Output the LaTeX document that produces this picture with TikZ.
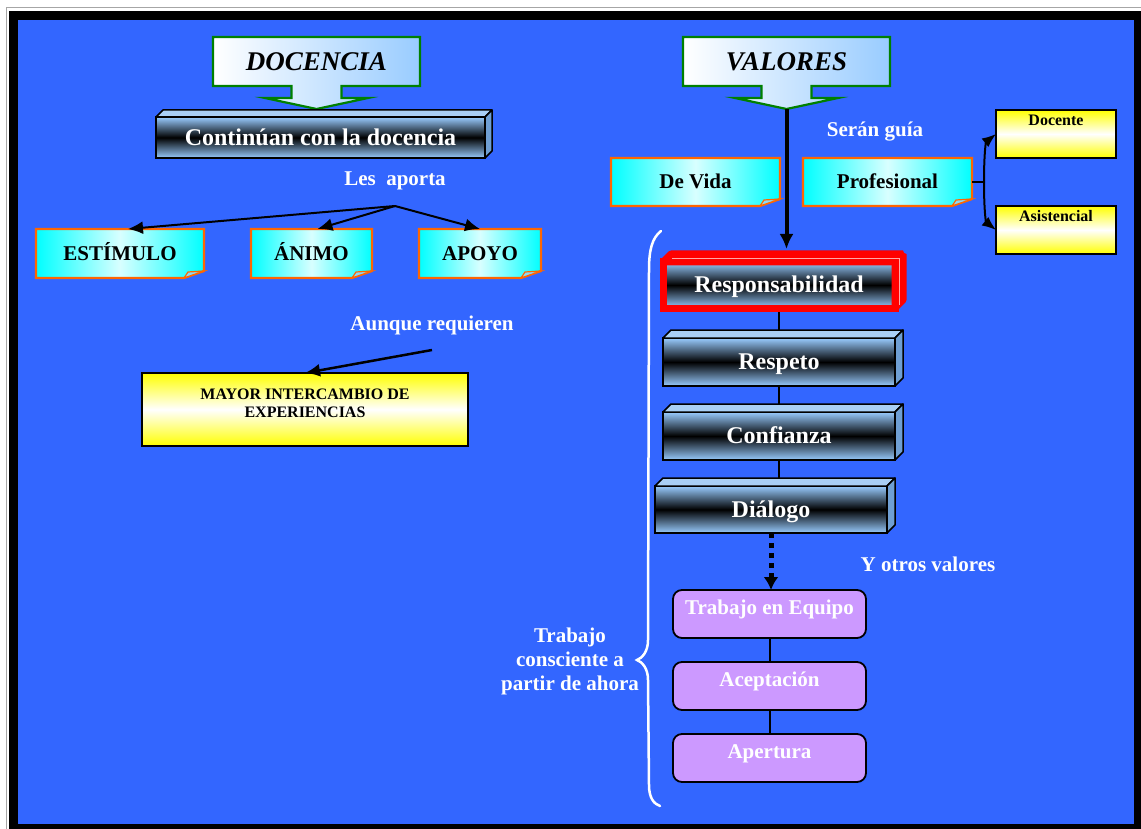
\documentclass[tikz,border=0pt]{standalone}
\usepackage{fontspec}
\setmainfont{Liberation Serif}
\usetikzlibrary{arrows.meta,calc}
\definecolor{bgblue}{HTML}{3366FF}
\definecolor{skyblue}{HTML}{99CCFF}
\definecolor{facetop}{HTML}{A9CFF5}
\definecolor{faceside}{HTML}{6F9FD3}
\definecolor{lilac}{HTML}{CC99FF}
\definecolor{edgeorange}{HTML}{FF6600}
\definecolor{leafgreen}{HTML}{008000}
\definecolor{palecyan}{HTML}{D8FFFF}
\pgfdeclarelayer{frame}
\pgfdeclarelayer{links}
\pgfsetlayers{frame,links,main}

% top and right faces of a slab node: name, depth, edge style
\newcommand{\slabfaces}[3]{%
  \draw[fill=facetop,#3] (#1.north west) -- ++(#2,-#2) -- ($(#1.north east)+(#2,-#2)$) -- (#1.north east) -- cycle;
  \draw[fill=faceside,#3] (#1.north east) -- ++(#2,-#2) -- ($(#1.south east)+(#2,-#2)$) -- (#1.south east) -- cycle;
}
% outline and turned-up corner of a note node
\newcommand{\notecorner}[1]{%
  \fill[bgblue] ($(#1.south east)+(1,-7)$) -- ($(#1.south east)+(1,1)$) -- ($(#1.south east)+(-20,1)$) -- cycle;
  \draw[edgeorange,line width=2.2pt,line join=miter] (#1.south west) -- (#1.north west) -- (#1.north east)
     -- ($(#1.south east)+(0,-7)$) -- ($(#1.south east)+(-20,0)$) -- cycle;
  \filldraw[draw=edgeorange,fill=cyan!45!white,line width=1.2pt] ($(#1.south east)+(-20,0)$) -- ($(#1.south east)+(-16,-6)$) -- ($(#1.south east)+(0,-7)$) -- cycle;
}

\begin{document}
\begin{tikzpicture}[x=1pt,y=-1pt,
  lbl/.style={text=white,font=\fontsize{21}{24}\selectfont\bfseries,align=center},
  note/.style={left color=cyan,right color=cyan,middle color=palecyan,minimum height=49pt,
     inner sep=0pt,outer sep=0pt,font=\fontsize{21}{24}\selectfont\bfseries,text height=18pt,text depth=4pt},
  slab/.style={draw=black,line width=1.5pt,top color=skyblue,bottom color=skyblue,middle color=black,
     text=white,font=\fontsize{24}{28}\selectfont\bfseries,inner sep=0pt,outer sep=0pt,
     text height=20pt,text depth=4.2pt},
  slabedge/.style={draw=black,line width=1.5pt,line join=round},
  hotedge/.style={draw=red,fill=red,line width=7pt,line join=bevel},
  ybox/.style={draw=black,line width=2pt,top color=yellow,bottom color=yellow,middle color=white,
     inner sep=0pt,outer sep=0pt,font=\fontsize{16}{18}\selectfont\bfseries},
  lbox/.style={draw=black,line width=1.8pt,fill=lilac,rounded corners=9pt,minimum width=193pt,
     minimum height=48pt,inner sep=0pt,outer sep=0pt,text=white,
     font=\fontsize{21}{24}\selectfont\bfseries,text height=16pt,text depth=16pt},
  heading/.style={font=\fontsize{27}{30}\selectfont\bfseries\itshape,minimum width=207pt,minimum height=49pt},
  link/.style={draw=black,line width=2pt},
  tip/.style={-{Latex[length=15pt,width=13pt]}},
  pics/callout/.style={code={
    \draw[draw=leafgreen,line width=2.2pt,left color=white,right color=skyblue,line join=miter]
      (-103.5,-24.5) -- (103.5,-24.5) -- (103.5,24.5) -- (25,24.5) -- (25,36.5) -- (51.5,36.5)
      -- (0,47.5) -- (-51.5,36.5) -- (-25,36.5) -- (-25,24.5) -- (-103.5,24.5) -- cycle;
  }}
]
\useasboundingbox (0,0) rectangle (1141,829);

% page frame
\begin{pgfonlayer}{frame}
  \fill[white] (0,0) rectangle (1141,829);
  \draw[gray!70,line width=1.2pt] (6.5,829) -- (6.5,7.5) -- (1141,7.5);
  \fill[black] (9,11) rectangle (1141,829);
  \fill[bgblue] (18,20) rectangle (1134,824);
\end{pgfonlayer}

% ---------- left column: DOCENCIA ----------
\pic at (316.5,61.5) {callout};
\node[heading] (docencia) at (316.5,61.5) {DOCENCIA};

\node[slab,minimum width=329pt,minimum height=41pt] (contin) at (320.5,137.5) {Continúan con la docencia};
\slabfaces{contin}{7}{slabedge}

\node[lbl] (aporta) at (395,181) {Les~~aporta};
\coordinate (fork) at (395,206);

\node[note,minimum width=168pt] (estimulo) at (120,253.5) {ESTÍMULO};
\notecorner{estimulo}
\node[note,minimum width=121pt] (animo) at (311.5,253.5) {ÁNIMO};
\notecorner{animo}
\node[note,minimum width=122pt] (apoyo) at (480,253.5) {APOYO};
\notecorner{apoyo}

\draw[link,tip] (fork) -- ($(estimulo.north)+(8,0)$);
\draw[link,tip] (fork) -- ($(animo.north)+(6,0)$);
\draw[link,tip] (fork) -- (apoyo.north);

\node[lbl] (aunque) at (432,325) {Aunque requieren};
\coordinate (req) at (432,350);
\node[ybox,minimum width=326pt,minimum height=73pt,
  label={[font=\fontsize{16}{18}\selectfont\bfseries,align=center,yshift=6pt]center:{MAYOR INTERCAMBIO DE\\EXPERIENCIAS}}]
  (mayor) at (305,409.5) {};
\draw[link,line width=2.5pt,tip] (req) -- (mayor.north);

% ---------- right column: VALORES ----------
\pic at (786.5,61.5) {callout};
\node[heading] (valores) at (786.5,61.5) {VALORES};
\coordinate (valorestip) at (786.5,109);

\node[lbl] (guia) at (875,132) {Serán guía};

\node[note,minimum width=169pt,minimum height=48pt] (devida) at (695.5,182) {De Vida};
\notecorner{devida}
\node[note,minimum width=169pt,minimum height=48pt] (prof) at (887.5,182) {Profesional};
\notecorner{prof}

\node[ybox,minimum width=120pt,minimum height=48pt,text height=12pt,text depth=28pt] (docente) at (1056,134) {Docente};
\node[ybox,minimum width=120pt,minimum height=48pt,text height=12pt,text depth=28pt] (asist) at (1056,230) {Asistencial};

\coordinate (bk) at ($(prof.east)+(12,0)$);
\draw[link] (prof.east) -- (bk);
\draw[link,-{Latex[length=14pt,width=11pt]}] (bk) .. controls +(0,-30) and +(-10,8) .. (docente.west);
\draw[link,-{Latex[length=14pt,width=11pt]}] (bk) .. controls +(0,30) and +(-10,-8) .. (asist.west);

% stack of values
\node[slab,draw=red,line width=7pt,minimum width=232pt,minimum height=46pt] (resp) at (779,285) {Responsabilidad};
\slabfaces{resp}{8}{hotedge}
\draw[red!35!white,line width=0.6pt] ($(resp.north west)+(9,-4)$) -- ($(resp.north east)+(4,-4)$) -- ($(resp.south east)+(4,-3)$);
\node[slab,minimum width=232pt,minimum height=48pt] (respeto) at (779,362) {Respeto};
\slabfaces{respeto}{8}{slabedge}
\node[slab,minimum width=232pt,minimum height=48pt] (confianza) at (779,436) {Confianza};
\slabfaces{confianza}{8}{slabedge}
\node[slab,minimum width=232pt,minimum height=47pt] (dialogo) at (771,509.5) {Diálogo};
\slabfaces{dialogo}{8}{slabedge}

\draw[line width=4pt,-{Latex[length=15pt,width=14pt]}] (valorestip) -- ($(valorestip |- resp.north)+(0,-13)$);

\node[lbl] (otros) at (928,564) {Y otros valores};

\node[lbox] (trabajo) at (769.5,614) {Trabajo en Equipo};
\node[lbox] (acept) at (769.5,686) {Aceptación};
\node[lbox] (apert) at (769.5,758) {Apertura};

\draw[line width=5pt,dash pattern=on 5pt off 5pt,-{Latex[length=13pt,width=15pt]}]
  (dialogo.south) -- (dialogo.south |- trabajo.north);

\begin{pgfonlayer}{links}
  \draw[link] (resp.south) -- (respeto.north);
  \draw[link] (respeto.south) -- (confianza.north);
  \draw[link] (confianza.south) -- (confianza.south |- dialogo.north);
  \draw[link] (trabajo.south) -- (acept.north);
  \draw[link] (acept.south) -- (apert.north);
\end{pgfonlayer}

% brace gathering the values
\draw[white,line width=2.5pt,line cap=round]
  (661,231) .. controls (652,238) and (649,250) .. (649,270) -- (648,640)
  .. controls (648,652) and (642,658) .. (637,660)
  .. controls (642,662) and (648,668) .. (648,680) -- (649,785)
  .. controls (649,798) and (654,804) .. (660,806);
\node[lbl] (consciente) at (570,661) {Trabajo\\consciente a\\partir de ahora};

\end{tikzpicture}
\end{document}
